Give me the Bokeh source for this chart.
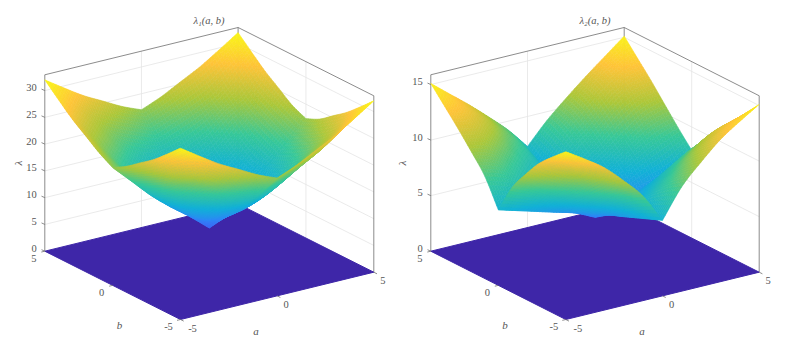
from bokeh.plotting import figure
from bokeh.layouts import row
from bokeh.models import Range1d
from bokeh.core.properties import value
from bokeh.embed import file_html
from bokeh.resources import INLINE

# Values, one row per a (-5..5), one column per b (-5..5).
grid_a = [-5, -4, -3, -2, -1, 0, 1, 2, 3, 4, 5]
grid_b = [-5, -4, -3, -2, -1, 0, 1, 2, 3, 4, 5]
lambda1 = [
    [32.0, 29.6, 27.3, 25.4, 23.5, 22.0, 23.5, 25.4, 27.3, 29.6, 32.0],
    [29.6, 26.5, 23.5, 21.5, 20.0, 18.5, 20.0, 21.5, 23.5, 26.5, 29.6],
    [27.3, 23.5, 21.0, 18.0, 16.0, 15.0, 16.0, 18.0, 21.0, 23.5, 27.3],
    [25.4, 21.5, 18.0, 15.0, 12.8, 12.0, 12.8, 15.0, 18.0, 21.5, 25.4],
    [23.5, 20.0, 16.0, 12.8, 10.3, 9.3, 10.3, 12.8, 16.0, 20.0, 23.5],
    [22.0, 18.5, 15.0, 12.0, 9.3, 6.3, 9.3, 12.0, 15.0, 18.5, 22.0],
    [23.5, 20.0, 16.0, 12.8, 10.3, 9.3, 10.3, 12.8, 16.0, 20.0, 23.5],
    [25.4, 21.5, 18.0, 15.0, 12.8, 12.0, 12.8, 15.0, 18.0, 21.5, 25.4],
    [27.3, 23.5, 21.0, 18.0, 16.0, 15.0, 16.0, 18.0, 21.0, 23.5, 27.3],
    [29.6, 26.5, 23.5, 21.5, 20.0, 18.5, 20.0, 21.5, 23.5, 26.5, 29.6],
    [32.0, 29.6, 27.3, 25.4, 23.5, 22.3, 23.5, 25.4, 27.3, 29.6, 32.0],
]
lambda2 = [
    [15.1, 14.0, 12.8, 11.2, 9.4, 6.8, 9.2, 10.8, 12.3, 13.7, 15.1],
    [14.0, 13.0, 11.8, 10.2, 8.6, 6.3, 8.6, 10.2, 11.8, 13.0, 13.7],
    [12.8, 11.8, 10.6, 9.0, 7.6, 5.8, 7.6, 9.0, 10.6, 11.8, 12.3],
    [11.2, 10.2, 9.0, 7.7, 6.5, 5.3, 6.5, 7.7, 9.0, 10.2, 10.8],
    [9.4, 8.6, 7.6, 6.5, 5.5, 4.8, 5.5, 6.5, 7.6, 8.6, 9.2],
    [6.8, 6.3, 5.8, 5.3, 4.8, 4.0, 4.8, 5.3, 5.8, 6.3, 7.3],
    [9.4, 8.6, 7.6, 6.5, 5.5, 4.8, 5.5, 6.5, 7.6, 8.6, 9.2],
    [11.2, 10.2, 9.0, 7.7, 6.5, 5.3, 6.5, 7.7, 9.0, 10.2, 10.8],
    [12.8, 11.8, 10.6, 9.0, 7.6, 5.8, 7.6, 9.0, 10.6, 11.8, 12.3],
    [14.0, 13.0, 11.8, 10.2, 8.6, 6.3, 8.6, 10.2, 11.8, 13.0, 13.7],
    [15.1, 13.7, 12.3, 10.8, 9.3, 7.9, 9.3, 10.8, 12.3, 13.7, 15.1],
]
z_ticks1 = [0, 5, 10, 15, 20, 25, 30]
z_ticks2 = [0, 5, 10, 15]
ab_ticks = [-5, 0, 5]

PARULA = [(0.2422, 0.1504, 0.6603), (0.2810, 0.3228, 0.9579), (0.1786, 0.5289, 0.9682),
          (0.0689, 0.6948, 0.8394), (0.2161, 0.7843, 0.5923), (0.6720, 0.7793, 0.2227),
          (0.9970, 0.7659, 0.2199), (0.9769, 0.9839, 0.0805)]
SUB = 7          # face shading steps per table cell (like MATLAB's shading interp)
CREASE = 5       # index of a = 0 / b = 0, where the surface has a crease
FONT = value("Liberation Serif")
TXT = "#555555"


def cmap(t):
    t = max(0.0, min(1.0, t)) * (len(PARULA) - 1)
    i = min(int(t), len(PARULA) - 2)
    f = t - i
    c = [PARULA[i][k] * (1 - f) + PARULA[i + 1][k] * f for k in range(3)]
    return "#%02x%02x%02x" % tuple(int(round(v * 255)) for v in c)


def weights(i, t):
    """Cubic shading weights on the table nodes around cell i, not crossing the crease."""
    w = {i - 1: -0.5 * t + t * t - 0.5 * t ** 3, i: 1 - 2.5 * t * t + 1.5 * t ** 3,
         i + 1: 0.5 * t + 2 * t * t - 1.5 * t ** 3, i + 2: -0.5 * t * t + 0.5 * t ** 3}
    n = len(grid_a) - 1
    if i == 0 or i == CREASE:
        w[i] += 2 * w[i - 1]
        w[i + 1] -= w[i - 1]
        del w[i - 1]
    if i + 1 == n or i + 1 == CREASE:
        w[i + 1] += 2 * w[i + 2]
        w[i] -= w[i + 2]
        del w[i + 2]
    return w


def panel(left, F, R, L, k, ztop, cmax, table, zticks, title, pos):
    p = figure(width=397, height=342, output_backend="svg", toolbar_location=None,
               x_range=Range1d(left, left + 397), y_range=Range1d(342, 0),
               min_border=0, outline_line_color=None)
    p.axis.visible = False
    p.grid.visible = False

    def proj(a, b, z=0.0):
        u, v = (a + 5) / 10, (b + 5) / 10
        return (F[0] + u * (R[0] - F[0]) + v * (L[0] - F[0]),
                F[1] + u * (R[1] - F[1]) + v * (L[1] - F[1]) - k * z)

    def seg(pts, color, w=0.8):
        p.line([q[0] for q in pts], [q[1] for q in pts], line_color=color, line_width=w)

    # back walls: grid then box
    grid = "#e4e4e4"
    for z in zticks[1:]:
        seg([proj(-5, 5, z), proj(5, 5, z), proj(5, -5, z)], grid)
    seg([proj(0, 5, 0), proj(0, 5, ztop)], grid)
    seg([proj(5, 0, 0), proj(5, 0, ztop)], grid)
    box = "#6e6e6e"
    seg([proj(-5, 5, 0), proj(-5, 5, ztop), proj(5, 5, ztop), proj(5, -5, ztop), proj(5, -5, 0)], box)
    seg([proj(5, 5, 0), proj(5, 5, ztop)], box)

    # floor sheet at lambda = 0
    fl = [proj(-5, -5), proj(5, -5), proj(5, 5), proj(-5, 5)]
    p.patch([q[0] for q in fl], [q[1] for q in fl], fill_color=cmap(0), line_color=cmap(0))

    # surface, far faces first
    m_n = len(grid_a)
    fine = [[0.0] * (SUB * (m_n - 1) + 1) for _ in range(SUB * (m_n - 1) + 1)]
    for i in range(m_n - 1):
        for si in range(SUB + 1):
            wa = weights(i, si / SUB)
            for j in range(m_n - 1):
                for sj in range(SUB + 1):
                    wb = weights(j, sj / SUB)
                    fine[i * SUB + si][j * SUB + sj] = sum(
                        va * vb * table[ia][ib] for ia, va in wa.items() for ib, vb in wb.items())
    xs, ys, cs = [], [], []
    N = SUB * (m_n - 1)
    for m in range(N - 1, -1, -1):
        for n in range(N - 1, -1, -1):
            corners = [(m, n), (m + 1, n), (m + 1, n + 1), (m, n + 1)]
            pts = [proj(-5 + u / SUB, -5 + v / SUB, fine[u][v]) for u, v in corners]
            xs.append([q[0] for q in pts])
            ys.append([q[1] for q in pts])
            cs.append(cmap(sum(fine[u][v] for u, v in corners) / 4 / cmax))
    p.patches(xs, ys, fill_color=cs, line_color=cs, line_width=0.6)

    # ticks
    def unit(d, n=3.6):
        s = (d[0] ** 2 + d[1] ** 2) ** 0.5
        return d[0] / s * n, d[1] / s * n
    ta = unit((F[0] - L[0], F[1] - L[1]))
    tb = unit((F[0] - R[0], F[1] - R[1]))
    for t in ab_ticks:
        q = proj(t, -5)
        seg([q, (q[0] + ta[0], q[1] + ta[1])], box)
        q = proj(-5, t)
        seg([q, (q[0] + tb[0], q[1] + tb[1])], box)
    for z in zticks:
        q = proj(-5, 5, z)
        seg([q, (q[0] - 3.3, q[1] - 1.5)], box)

    def text(x, y, s, align="center", angle=0, style="normal", size="10.5px"):
        p.text([x], [y], text=[s], text_font=FONT, text_font_size=size, text_color=TXT,
               text_align=align, text_baseline="middle", angle=angle, text_font_style=style)

    for z in zticks:
        q = proj(-5, 5, z)
        text(q[0] - 8, q[1] - 3, str(z), align="right")
    for t in ab_ticks:
        q = proj(t, -5)
        if t == -5:
            text(q[0] + 12, q[1] + 8.5, str(t))
        else:
            text(q[0] + 9, q[1] + 8.5, str(t))
        q = proj(-5, t)
        if t == -5:
            text(q[0] - 12, q[1] + 7, str(t))
        else:
            text(q[0] - 11, q[1] + 7, str(t))
    text(pos["a"][0], pos["a"][1], "a", style="italic", size="11px")
    text(pos["b"][0], pos["b"][1], "b", style="italic", size="11px")
    text(pos["z"][0], pos["z"][1], "λ", angle=1.5708, style="italic", size="11px")
    text(pos["t"][0], pos["t"][1], title, style="italic", size="10.5px")
    return p


p1 = panel(0, (180, 319), (373.3, 271.7), (44.3, 250.7), 5.354, 32.95, 32.3, lambda1, z_ticks1, "λ₁(a, b)",
           {"a": (255.5, 330), "b": (119, 324.5), "z": (17.5, 162.5), "t": (208.5, 20)})
p2 = panel(397, (565.3, 319), (758.7, 271.7), (430.3, 250.7), 11.11, 15.88, 15.4, lambda2, z_ticks2, "λ₂(a, b)",
           {"a": (641.5, 330), "b": (504.5, 324.5), "z": (401, 162.5), "t": (594.5, 20)})

open("out.html", "w").write(file_html(row(p1, p2), INLINE))
